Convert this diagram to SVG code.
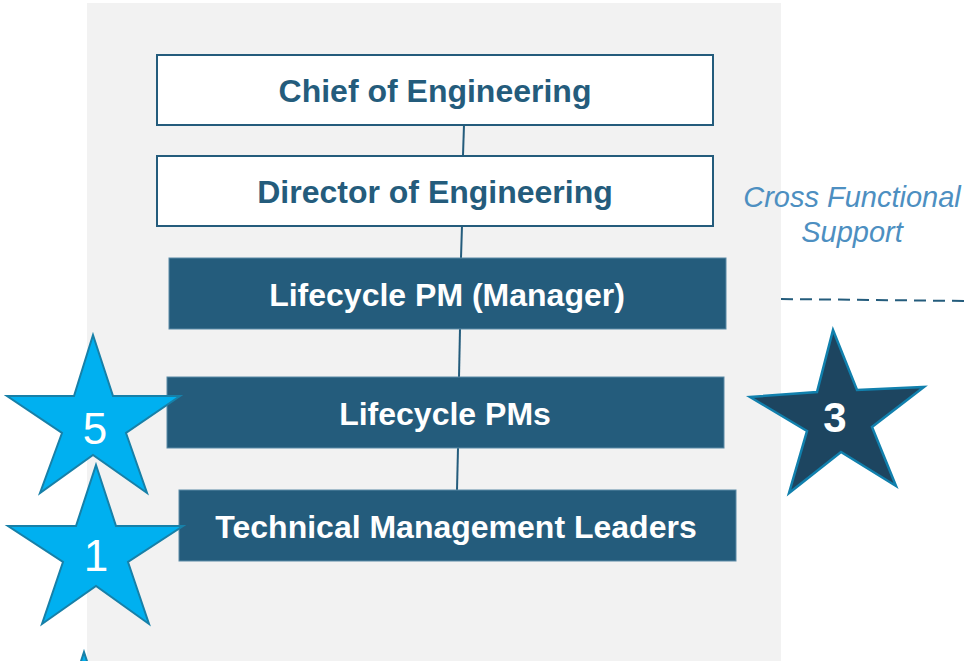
<svg xmlns="http://www.w3.org/2000/svg" width="966" height="661" viewBox="0 0 966 661">
<style>
.lbox{fill:#ffffff;stroke:#245c7c;stroke-width:2}
.dbox{fill:#245c7c;stroke:#5a8aa6;stroke-width:1}
.t{font-family:"Liberation Sans",Arial,sans-serif;font-weight:bold;font-size:32px;text-anchor:middle}
.dark{fill:#245c7c}
.white{fill:#ffffff}
.conn{stroke:#245c7c;stroke-width:2;fill:none}
.star{fill:#00b0f0;stroke:#1780a8;stroke-width:2}
.num{font-family:"Liberation Sans",Arial,sans-serif;font-size:44px;fill:#ffffff;text-anchor:middle}
</style>
<rect width="966" height="661" fill="#ffffff"/>
<rect x="87" y="3" width="694" height="658" fill="#f2f2f2"/>
<g id="connectors">
<line class="conn" x1="464" y1="125" x2="463" y2="155"/>
<line class="conn" x1="462" y1="226" x2="461" y2="258"/>
<line class="conn" x1="460" y1="329" x2="459" y2="377"/>
<line class="conn" x1="458" y1="448" x2="457" y2="490"/>
<line x1="781" y1="299" x2="966" y2="301" stroke="#245c7c" stroke-width="2" stroke-dasharray="12 7"/>
</g>
<g id="chief">
<rect class="lbox" x="157" y="55" width="556" height="70"/>
<text class="t dark" x="435" y="102">Chief of Engineering</text>
</g>
<g id="director">
<rect class="lbox" x="157" y="156" width="556" height="70"/>
<text class="t dark" x="435" y="203">Director of Engineering</text>
</g>
<g id="lifecycle-pm-manager">
<rect class="dbox" x="169" y="258" width="557" height="71"/>
<text class="t white" x="447" y="306">Lifecycle PM (Manager)</text>
</g>
<g id="lifecycle-pms">
<rect class="dbox" x="167" y="377" width="557" height="71"/>
<text class="t white" x="445" y="425">Lifecycle PMs</text>
</g>
<g id="tml">
<rect class="dbox" x="179" y="490" width="557" height="71"/>
<text class="t white" x="456" y="538">Technical Management Leaders</text>
</g>
<g id="cross-functional">
<text font-family="'Liberation Sans',Arial,sans-serif" font-style="italic" font-size="29" fill="#4d8fc1" text-anchor="middle"><tspan x="852" y="207">Cross Functional</tspan><tspan x="852" y="242">Support</tspan></text>
</g>
<g id="star-5">
<path class="star" d="M93,335 L113,396 L180,396 L126,433 L147,493 L93,455 L40,493 L62,433 L7,396 L74,396 Z"/>
<text class="num" x="95" y="444">5</text>
</g>
<g id="star-1">
<path class="star" d="M96,465 L116,526 L183,526 L128,562 L149,624 L96,586 L42,624 L63,562 L8,526 L76,526 Z"/>
<text class="num" x="96" y="571">1</text>
</g>
<g id="star-bottom">
<path class="star" d="M84,652 L104,713 L171,713 L116,749 L137,811 L84,773 L30,811 L51,749 L-4,713 L64,713 Z"/>
</g>
<g id="star-3">
<path d="M833,330 L857,390 L924,387 L872,427 L896,486 L841,452 L789,493 L807,431 L750,397 L817,392 Z" fill="#1d4560" stroke="#1180ad" stroke-width="2.5"/>
<text x="835" y="432" font-family="'Liberation Sans',Arial,sans-serif" font-weight="bold" font-size="42" fill="#ffffff" text-anchor="middle">3</text>
</g>
</svg>
